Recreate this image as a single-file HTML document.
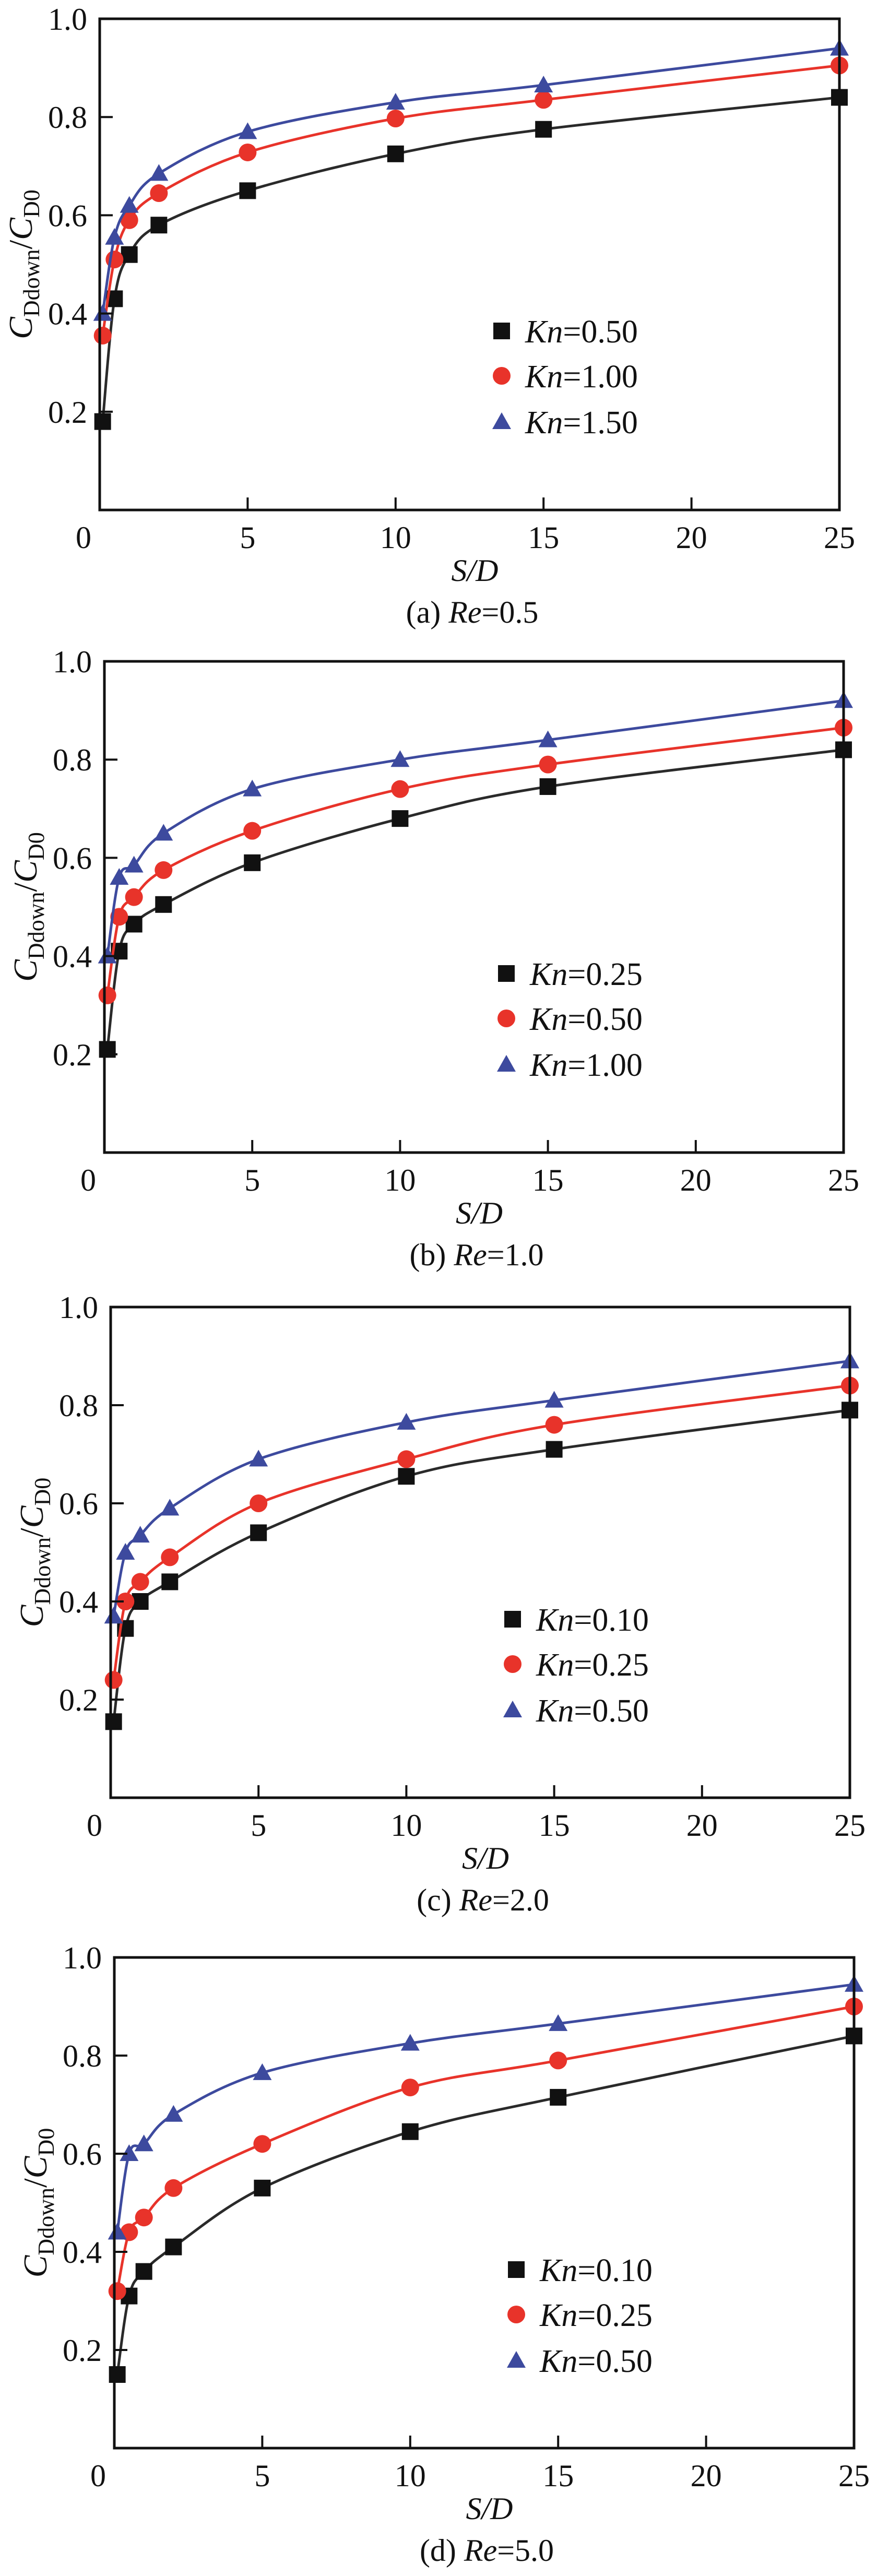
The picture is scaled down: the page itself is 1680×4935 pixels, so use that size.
<!DOCTYPE html>
<html><head><meta charset="utf-8">
<style>
html,body{margin:0;padding:0;background:#fff;}
svg{display:block;font-family:"Liberation Serif","DejaVu Serif",serif;}
text{font-family:"Liberation Serif","DejaVu Serif",serif;}
</style></head>
<body>
<svg id="fig" width="1680" height="4935" viewBox="0 0 1680 4935" xmlns="http://www.w3.org/2000/svg" font-family="Liberation Serif, serif"></svg>
<script>
// Shared x positions (S/D)
const xVals = [0.1, 0.5, 1, 2, 5, 10, 15, 25];
const xTicks = [0, 5, 10, 15, 20, 25];
const yTicks = [0.2, 0.4, 0.6, 0.8, 1.0];

// Panel (a) Re=0.5
const aLabels = ["0.50", "1.00", "1.50"];
const aBlack = [0.18, 0.43, 0.52, 0.58, 0.65, 0.725, 0.775, 0.84];
const aRed   = [0.355, 0.51, 0.59, 0.645, 0.728, 0.797, 0.835, 0.905];
const aBlue  = [0.40, 0.555, 0.62, 0.685, 0.77, 0.83, 0.865, 0.94];
// Panel (b) Re=1.0
const bLabels = ["0.25", "0.50", "1.00"];
const bBlack = [0.21, 0.41, 0.465, 0.505, 0.59, 0.68, 0.745, 0.82];
const bRed   = [0.32, 0.48, 0.52, 0.575, 0.655, 0.74, 0.79, 0.865];
const bBlue  = [0.40, 0.56, 0.585, 0.65, 0.74, 0.80, 0.84, 0.92];
// Panel (c) Re=2.0
const cLabels = ["0.10", "0.25", "0.50"];
const cBlack = [0.155, 0.345, 0.40, 0.44, 0.54, 0.655, 0.71, 0.79];
const cRed   = [0.24, 0.40, 0.44, 0.49, 0.60, 0.69, 0.76, 0.84];
const cBlue  = [0.37, 0.50, 0.535, 0.59, 0.69, 0.765, 0.81, 0.89];
// Panel (d) Re=5.0
const dLabels = ["0.10", "0.25", "0.50"];
const dBlack = [0.15, 0.31, 0.36, 0.41, 0.53, 0.645, 0.715, 0.84];
const dRed   = [0.32, 0.44, 0.47, 0.53, 0.62, 0.735, 0.79, 0.90];
const dBlue  = [0.44, 0.60, 0.62, 0.68, 0.765, 0.825, 0.865, 0.945];

const NS = "http://www.w3.org/2000/svg";
const svg = document.getElementById("fig");
const COLORS = ["#111111", "#e8332a", "#3d4a9e"];
const LINECOL = ["#2a2a2a", "#e8332a", "#3d4a9e"];
const FONT = "'Liberation Serif', 'DejaVu Serif', serif";

function mk(tag, attrs, parent) {
  const e = document.createElementNS(NS, tag);
  for (const k in attrs) e.setAttribute(k, attrs[k]);
  if (tag === "text") e.setAttribute("font-family", FONT);
  (parent || svg).appendChild(e);
  return e;
}

function marker(g, kind, cx, cy, col) {
  let m;
  if (kind === 0) m = mk("rect", {x: cx - 16, y: cy - 16, width: 32, height: 32, fill: col}, g);
  else if (kind === 1) m = mk("circle", {cx: cx, cy: cy, r: 17, fill: col}, g);
  else m = mk("polygon", {points: (cx) + "," + (cy - 18) + " " + (cx - 18) + "," + (cy + 14) + " " + (cx + 18) + "," + (cy + 14), fill: col}, g);
  return m;
}

function smoothPath(pts) {
  let d = "M" + pts[0][0] + "," + pts[0][1];
  for (let i = 0; i < pts.length - 1; i++) {
    const p0 = pts[Math.max(0, i - 1)], p1 = pts[i], p2 = pts[i + 1], p3 = pts[Math.min(pts.length - 1, i + 2)];
    const c1x = p1[0] + (p2[0] - p0[0]) / 6, c1y = p1[1] + (p2[1] - p0[1]) / 6;
    const c2x = p2[0] - (p3[0] - p1[0]) / 6, c2y = p2[1] - (p3[1] - p1[1]) / 6;
    d += " C" + c1x + "," + c1y + " " + c2x + "," + c2y + " " + p2[0] + "," + p2[1];
  }
  return d;
}

function panel(id, L, T, R, B, series, labels, capLetter, reVal) {
  const g = mk("g", {});
  
  
  const xs = v => L + (R - L) * v / 25;
  const ys = v => B - (B - T) * v / 1.0;

  series.forEach((vals, si) => {
    const pts = xVals.map((x, i) => [xs(x), ys(vals[i])]);
    const path = mk("path", {d: smoothPath(pts), fill: "none", stroke: LINECOL[si], "stroke-width": 5}, g);
    
    
    pts.forEach((p, i) => {
      const m = marker(g, si, p[0], p[1], COLORS[si]);
      
      
    });
  });

  const fr = mk("rect", {x: L, y: T, width: R - L, height: B - T, fill: "none", stroke: "#111", "stroke-width": 5}, g);
  
  

  yTicks.forEach(v => {
    const y = ys(v);
    if (v < 1) {
      const t = mk("line", {x1: L, x2: L + 25, y1: y, y2: y, stroke: "#111", "stroke-width": 4}, g);
      
      
    }
    const tx = mk("text", {x: L - 24, y: y + 21, "font-size": 60, "text-anchor": "end", fill: "#111"}, g);
    tx.textContent = v.toFixed(1);
    
    
  });
  xTicks.forEach(v => {
    const x = xs(v);
    if (v > 0 && v < 25) {
      const t = mk("line", {x1: x, x2: x, y1: B, y2: B - 24, stroke: "#111", "stroke-width": 4}, g);
      
      
    }
    const tx = mk("text", {x: v === 0 ? x - 31 : x, y: B + 73, "font-size": 60, "text-anchor": "middle", fill: "#111"}, g);
    tx.textContent = String(v);
    
    
  });

  const xt = mk("text", {x: (L + R) / 2 + 10, y: B + 136, "font-size": 60, "font-style": "italic", "text-anchor": "middle", fill: "#111"}, g);
  xt.textContent = "S/D";
  
  

  const cx = L - 130, cy = (T + B) / 2;
  const yt = mk("text", {x: cx, y: cy, "font-size": 64, "text-anchor": "middle", fill: "#111", transform: "rotate(-90 " + cx + " " + cy + ")"}, g);
  
  
  const parts = [["C", "italic", 0, 64], ["Ddown", "normal", 14, 44], ["/", "normal", -14, 64], ["C", "italic", 0, 64], ["D0", "normal", 14, 44]];
  parts.forEach(p => {
    const ts = mk("tspan", {"font-style": p[1], dy: p[2], "font-size": p[3]}, yt);
    ts.textContent = p[0];
  });

  const cap = mk("text", {x: (L + R) / 2 + 5, y: B + 216, "font-size": 60, "text-anchor": "middle", fill: "#111"}, g);
  
  
  const c1 = mk("tspan", {}, cap); c1.textContent = "(" + capLetter + ") ";
  const c2 = mk("tspan", {"font-style": "italic"}, cap); c2.textContent = "Re";
  const c3 = mk("tspan", {}, cap); c3.textContent = "=" + reVal;

  const lb = [620, 706, 794];
  labels.forEach((lab, i) => {
    const lg = mk("g", {}, g);
    
    
    const mx = L + 770, my = T + lb[i] - 22;
    marker(lg, i, mx, my, COLORS[i]);
    const t = mk("text", {x: mx + 45, y: T + lb[i], "font-size": 62, fill: "#111"}, lg);
    const k = mk("tspan", {"font-style": "italic"}, t); k.textContent = "Kn";
    const r = mk("tspan", {}, t); r.textContent = "=" + lab;
  });
}

panel("a", 191, 36, 1608, 977, [aBlack, aRed, aBlue], aLabels, "a", "0.5");
panel("b", 200, 1267, 1616, 2208, [bBlack, bRed, bBlue], bLabels, "b", "1.0");
panel("c", 212, 2504, 1628, 3444, [cBlack, cRed, cBlue], cLabels, "c", "2.0");
panel("d", 219, 3750, 1636, 4690, [dBlack, dRed, dBlue], dLabels, "d", "5.0");
</script>
</body></html>
